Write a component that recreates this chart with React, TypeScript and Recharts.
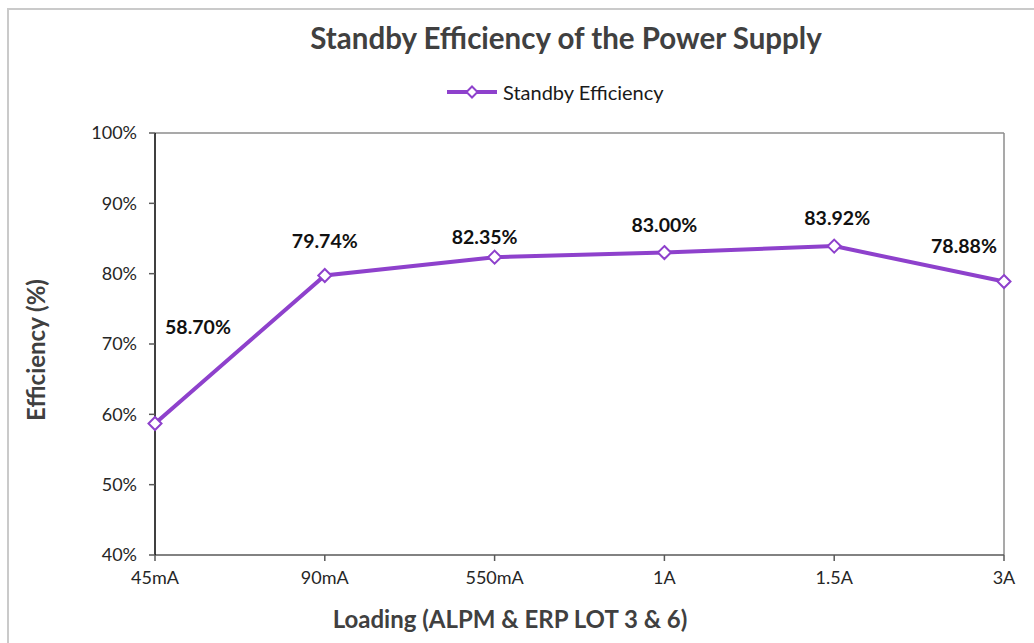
import React from "react";
import { LineChart, Line, XAxis, YAxis, ReferenceLine, LabelList } from "recharts";

const categories = ["45mA", "90mA", "550mA", "1A", "1.5A", "3A"];
const efficiency = [58.7, 79.74, 82.35, 83.0, 83.92, 78.88];
const yTicks = [40, 50, 60, 70, 80, 90, 100];

const data = categories.map((load, i) => ({ load, eff: efficiency[i] }));

const purple = "#8E41CC";
const font = "Lato, 'Open Sans', sans-serif";

// hand-placed label offsets (dx, dy) from each point, like the original sheet
const labelOffsets = [
  [43, -97],
  [0, -35],
  [-10, -21],
  [0, -28],
  [3, -29],
  [-40, -36],
];

const Diamond = (props: any) => {
  const { cx, cy } = props;
  if (cx == null || cy == null) return null;
  const r = 6.5;
  return (
    <path
      d={`M${cx},${cy - r}L${cx + r},${cy}L${cx},${cy + r}L${cx - r},${cy}Z`}
      fill="#fff"
      stroke={purple}
      strokeWidth={2}
    />
  );
};

const PointLabel = (props: any) => {
  const { x, y, value, index } = props;
  const [dx, dy] = labelOffsets[index] ?? [0, -20];
  return (
    <text
      x={x + dx}
      y={y + dy}
      textAnchor="middle"
      dominantBaseline="central"
      fontFamily={font}
      fontWeight={700}
      fontSize={19.5}
      fill="#111"
    >
      {`${Number(value).toFixed(2)}%`}
    </text>
  );
};

export default function App() {
  return (
    <div style={{ position: "absolute", left: 0, top: 0, width: 1034, height: 643, background: "#fff", overflow: "hidden", fontFamily: font }}>
      <div
        style={{
          position: "absolute",
          left: 7,
          top: 8,
          width: 1027,
          height: 635,
          boxSizing: "border-box",
          borderTop: "2px solid #cacaca",
          borderLeft: "2px solid #cacaca",
        }}
      />
      <div
        style={{
          position: "absolute",
          left: 0,
          width: 1132,
          top: 20,
          textAlign: "center",
          fontSize: 29.5,
          fontWeight: 700,
          color: "#404040",
          lineHeight: "36px",
        }}
      >
        Standby Efficiency of the Power Supply
      </div>
      <div style={{ position: "absolute", left: 447, top: 80, height: 24, display: "flex", alignItems: "center" }}>
        <svg width={52} height={24}>
          <line x1={0} y1={12} x2={50} y2={12} stroke={purple} strokeWidth={4} />
          <path d="M25,6.5L30.5,12L25,17.5L19.5,12Z" fill="#fff" stroke={purple} strokeWidth={2} />
        </svg>
        <span style={{ marginLeft: 4, fontSize: 20, color: "#1a1a1a" }}>Standby Efficiency</span>
      </div>
      <LineChart
        width={1034}
        height={643}
        data={data}
        margin={{ top: 133, right: 30, bottom: 18, left: 60 }}
        style={{ position: "absolute", left: 0, top: 0 }}
      >
        <XAxis
          dataKey="load"
          height={70}
          axisLine={{ stroke: "#595959", strokeWidth: 1.5 }}
          tickLine={{ stroke: "#595959", strokeWidth: 1.5 }}
          tickSize={6}
          tickMargin={10}
          tick={{ fill: "#262626", fontSize: 18, fontFamily: font }}
          interval={0}
        />
        <YAxis
          type="number"
          domain={[40, 100]}
          ticks={yTicks}
          width={95}
          tickFormatter={(v: number) => `${v}%`}
          axisLine={{ stroke: "#000", strokeWidth: 1.5 }}
          tickLine={{ stroke: "#595959", strokeWidth: 1.5 }}
          tickSize={6}
          tickMargin={12}
          tick={{ fill: "#262626", fontSize: 18, fontFamily: font }}
          allowDataOverflow
        />
        <ReferenceLine y={100} stroke="#8c8c8c" strokeWidth={1.5} />
        <ReferenceLine x="3A" stroke="#8c8c8c" strokeWidth={1.5} />
        <Line
          dataKey="eff"
          stroke={purple}
          strokeWidth={4}
          dot={<Diamond />}
          activeDot={false}
          isAnimationActive={false}
        >
          <LabelList dataKey="eff" content={<PointLabel />} />
        </Line>
      </LineChart>
      <div
        style={{
          position: "absolute",
          left: 35,
          top: 350,
          transform: "translate(-50%, -50%) rotate(-90deg)",
          whiteSpace: "nowrap",
          fontSize: 24,
          fontWeight: 700,
          color: "#404040",
        }}
      >
        Efficiency (%)
      </div>
      <div
        style={{
          position: "absolute",
          left: 0,
          width: 1020,
          top: 604,
          textAlign: "center",
          fontSize: 24,
          fontWeight: 700,
          color: "#404040",
          lineHeight: "30px",
        }}
      >
        Loading (ALPM &amp; ERP LOT 3 &amp; 6)
      </div>
    </div>
  );
}
